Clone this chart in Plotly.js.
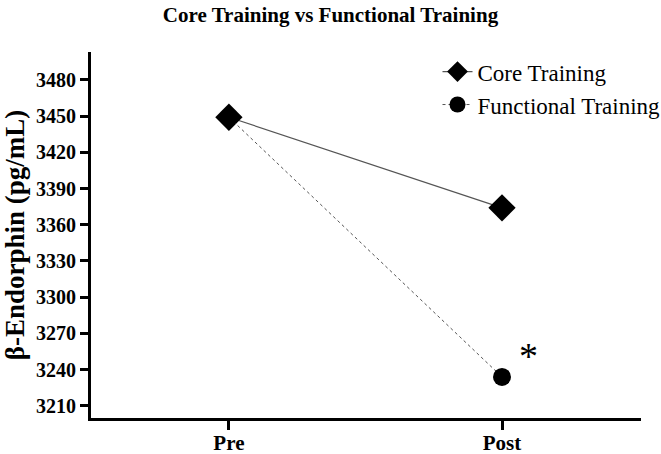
<!DOCTYPE html>
<html><head><meta charset="utf-8">
<script src="https://cdn.plot.ly/plotly-3.0.1.min.js"></script>
<style>body{margin:0;padding:0;background:#fff}#c{width:661px;height:454px}</style>
</head><body><div id="c"></div>
<script>
const categories = ["Pre", "Post"];
const coreTraining = [3449, 3374];
const functionalTraining = [3449, 3234];
const yTicks = [3210, 3240, 3270, 3300, 3330, 3360, 3390, 3420, 3450, 3480];

const serif = "Liberation Serif, Times New Roman, serif";
const traces = [
  {x: categories, y: coreTraining, name: "Core Training", type: "scatter", mode: "lines+markers",
   line: {color: "#555", width: 1.2}, marker: {symbol: "diamond", size: 21, color: "#000"}},
  {x: categories, y: functionalTraining, name: "Functional Training", type: "scatter", mode: "lines+markers",
   line: {color: "#555", width: 1, dash: "dot"}, marker: {symbol: "circle", size: 18, color: "#000"}}
];
const layout = {
  width: 661, height: 454,
  margin: {l: 91, r: 20, t: 52, b: 36, autoexpand: false},
  paper_bgcolor: "#fff", plot_bgcolor: "#fff",
  title: {text: "<b>Core Training vs Functional Training</b>", font: {family: serif, size: 21, color: "#000"}, x: 0.5, xanchor: "center", y: 0.968, yanchor: "middle"},
  xaxis: {type: "category", range: [-0.505, 1.509], showgrid: false, zeroline: false, showline: true, linewidth: 3, linecolor: "#000",
    ticks: "outside", ticklen: 9, tickwidth: 3, tickcolor: "#000", automargin: false, ticklabelstandoff: -5,
    tickfont: {family: serif, size: 21, color: "#000"}},
  yaxis: {range: [3200, 3503], tickvals: yTicks, ticktext: yTicks.map(v => "<b>" + v + "</b>"),
    showgrid: false, zeroline: false, showline: true, linewidth: 3, linecolor: "#000", automargin: false,
    ticks: "outside", ticklen: 8, tickwidth: 3, tickcolor: "#000",
    tickfont: {family: serif, size: 20, color: "#000"},
    title: {text: "<b>β-Endorphin (pg/mL)</b>", font: {family: serif, size: 27, color: "#000"}, standoff: 4}},
  legend: {x: 0.63, y: 1.005, xanchor: "left", yanchor: "top", font: {family: serif, size: 23, color: "#000"}, bgcolor: "rgba(0,0,0,0)", itemwidth: 30, tracegroupgap: 2},
  showlegend: true,
  annotations: [{x: "Post", y: 3234, xref: "x", yref: "y", text: "*", showarrow: false, xshift: 26, yshift: 21,
    font: {family: serif, size: 38, color: "#000"}}]
};
layout.xaxis.ticktext = categories.map(c => "<b>" + c + "</b>");
layout.xaxis.tickvals = categories;
Plotly.newPlot("c", traces, layout, {displayModeBar: false});
</script></body></html>
